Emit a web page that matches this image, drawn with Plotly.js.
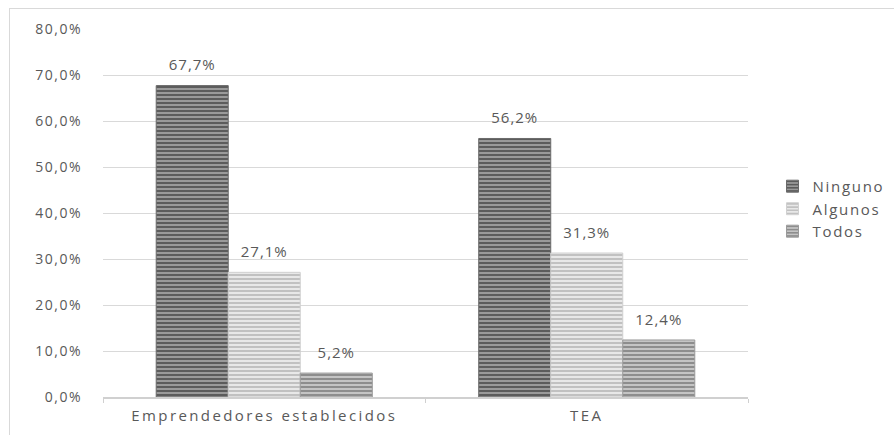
<!DOCTYPE html>
<html>
<head>
<meta charset="utf-8">
<script src="https://cdn.plot.ly/plotly-3.0.1.min.js"></script>
<style>
  html, body { margin: 0; padding: 0; background: #fff; width: 894px; height: 435px; overflow: hidden; }
  #frame { position: absolute; left: 9px; top: 8px; width: 900px; height: 440px; border-left: 1.5px solid #d9d9d9; border-top: 1.5px solid #d9d9d9; }
  #chart { position: absolute; left: 0; top: 0; width: 894px; height: 435px; }
  .xtick text { letter-spacing: 2.4px; }
  .ytick text { letter-spacing: 1.5px; }
  text.bartext { letter-spacing: 1px; }
  text.legendtext { letter-spacing: 1.7px; }
</style>
</head>
<body>
<div id="frame"></div>
<div id="chart"></div>
<script>
const categories = ["Emprendedores establecidos", "TEA"];
const seriesNames = ["Ninguno", "Algunos", "Todos"];
const ninguno = [0.677, 0.562];
const algunos = [0.271, 0.313];
const todos = [0.052, 0.124];
const yTicks = [0, 0.1, 0.2, 0.3, 0.4, 0.5, 0.6, 0.7, 0.8];

const values = [ninguno, algunos, todos];
const styles = [
  { bg: "#9a9a9a", fg: "#555555", line: "#6a6a6a" },
  { bg: "#e8e8e8", fg: "#bdbdbd", line: "#d0d0d0" },
  { bg: "#c4c4c4", fg: "#878787", line: "#9a9a9a" }
];

const baseFont = { family: "Open Sans, sans-serif", size: 14, color: "#595959" };
const labelFont = { family: "Open Sans, sans-serif", size: 15, color: "#595959" };

// visible bars
const barTraces = seriesNames.map((name, i) => ({
  type: "bar",
  name: name,
  x: categories,
  y: values[i],
  marker: {
    color: styles[i].bg,
    line: { color: styles[i].line, width: 1 },
    pattern: { shape: "-", fgcolor: styles[i].fg, bgcolor: styles[i].bg, size: 4, solidity: 0.45, fillmode: "replace" }
  },
  hoverinfo: "none"
}));

// value labels: same data on an overlaid, slightly shifted axis so labels sit a bit higher
const labelTraces = seriesNames.map((name, i) => ({
  type: "bar",
  name: name,
  x: categories,
  y: values[i],
  yaxis: "y2",
  showlegend: false,
  texttemplate: "%{y:.1%}",
  textposition: "outside",
  cliponaxis: false,
  textfont: labelFont,
  marker: { color: "rgba(0,0,0,0)", line: { width: 0 } },
  hoverinfo: "none"
}));

const layout = {
  width: 894,
  height: 435,
  margin: { l: 103, r: 146, t: 29, b: 38, autoexpand: false },
  paper_bgcolor: "rgba(0,0,0,0)",
  plot_bgcolor: "rgba(0,0,0,0)",
  separators: ",.",
  barmode: "group",
  bargap: 0.33,
  bargroupgap: 0,
  font: baseFont,
  showlegend: true,
  legend: {
    x: 1.038, y: 0.511, xanchor: "left", yanchor: "middle",
    font: labelFont,
    itemwidth: 30,
    tracegroupgap: 0,
    bgcolor: "rgba(0,0,0,0)"
  },
  xaxis: {
    type: "category",
    showgrid: false,
    showline: true,
    linecolor: "#d0d0d0",
    linewidth: 1.5,
    ticks: "outside",
    tickson: "boundaries",
    ticklen: 4,
    tickcolor: "#d0d0d0",
    tickfont: labelFont,
    ticklabelstandoff: 4,
    zeroline: false
  },
  yaxis: {
    range: [0, 0.8],
    tickvals: yTicks,
    tickformat: ".1%",
    showgrid: true,
    gridcolor: "#d9d9d9",
    gridwidth: 1,
    showline: false,
    zeroline: false,
    ticks: "",
    ticklabelstandoff: 20,
    tickfont: baseFont
  },
  yaxis2: {
    overlaying: "y",
    range: [-0.018, 0.782],
    visible: false,
    showgrid: false,
    zeroline: false
  }
};

Plotly.newPlot("chart", barTraces.concat(labelTraces), layout, { staticPlot: true, displayModeBar: false });
</script>
</body>
</html>
